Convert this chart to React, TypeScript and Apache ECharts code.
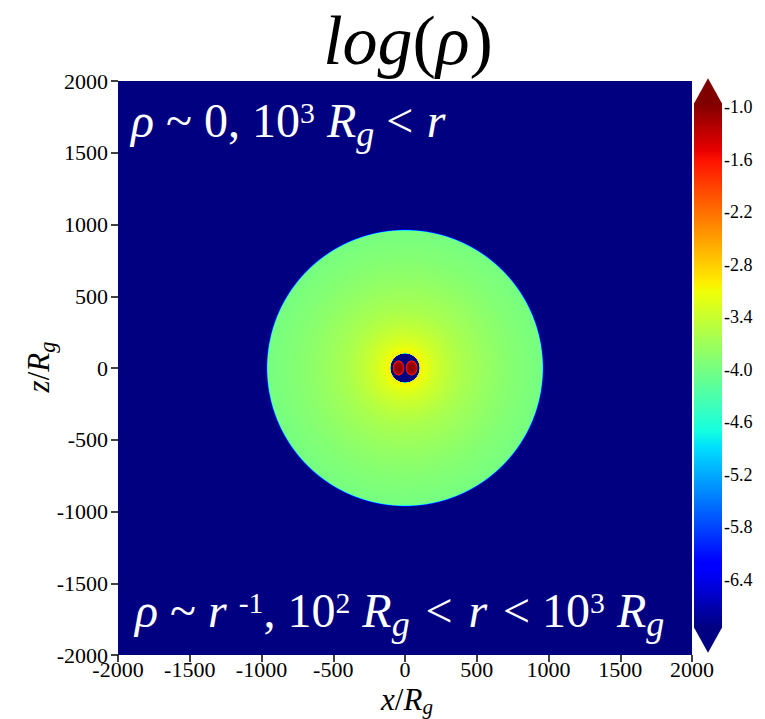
import React, { useEffect, useRef } from 'react';
import * as echarts from 'echarts';

// ---- axes ----
const axisRange = [-2000, 2000];
const axisStep = 500;

// ---- colour scale (log rho) ----
const colorRange = [-6.95, -0.95];
const colorTicks = [-1.0, -1.6, -2.2, -2.8, -3.4, -4.0, -4.6, -5.2, -5.8, -6.4];

// ---- radial profile of log(rho) ----
const profileRadius = [0, 97, 104, 150, 200, 300, 400, 500, 600, 700, 800, 900, 955, 972, 2900];
const profileLogRho = [-8, -8, -3.0, -3.18, -3.31, -3.48, -3.61, -3.7, -3.78, -3.85, -3.91, -3.96, -3.99, -8, -8];

// ---- torus blobs inside r < 100 Rg ----
const blobX = [-45, 46];
const blobZ = [0, 0];
const blobRx = [39, 40];
const blobRz = [52, 52];
const blobLevelOffset = [0, 0.6, 0.85, 0.95, 1];
const blobLevelValue = [-1.0, -1.1, -1.35, -1.7, -2.0];

const FONT = '"Liberation Serif", "Times New Roman", serif';

const JET_R: number[][] = [[0, 0.35, 0.66, 0.89, 1], [0, 0, 1, 1, 0.5]];
const JET_G: number[][] = [[0, 0.125, 0.375, 0.64, 0.91, 1], [0, 0, 1, 1, 0, 0]];
const JET_B: number[][] = [[0, 0.11, 0.34, 0.65, 1], [0.5, 1, 1, 0, 0]];
const JET_BREAKS = [0, 0.11, 0.125, 0.34, 0.35, 0.375, 0.64, 0.65, 0.66, 0.89, 0.91, 1];

function lerpTable(t: number, tab: number[][]) {
  const xs = tab[0], ys = tab[1];
  if (t <= xs[0]) return ys[0];
  for (let i = 1; i < xs.length; i++) {
    if (t <= xs[i]) {
      const f = (t - xs[i - 1]) / (xs[i] - xs[i - 1]);
      return ys[i - 1] + f * (ys[i] - ys[i - 1]);
    }
  }
  return ys[ys.length - 1];
}
function jetT(t: number) {
  const c = Math.max(0, Math.min(1, t));
  const r = Math.round(255 * lerpTable(c, JET_R));
  const g = Math.round(255 * lerpTable(c, JET_G));
  const b = Math.round(255 * lerpTable(c, JET_B));
  return `rgb(${r},${g},${b})`;
}
function jetV(v: number) {
  return jetT((v - colorRange[0]) / (colorRange[1] - colorRange[0]));
}

// ---- math-like text built from fragments ----
type Frag = { t: string; i?: boolean; s?: number; dy?: number; gap?: number };
let measureCtx: CanvasRenderingContext2D | null = null;
function measure(t: string, size: number, italic: boolean) {
  if (!measureCtx) measureCtx = document.createElement('canvas').getContext('2d');
  measureCtx!.font = `${italic ? 'italic ' : ''}${size}px ${FONT}`;
  return measureCtx!.measureText(t).width;
}
function mathText(frags: Frag[], base: number, x: number, y: number, align: string, fill: string, rotation = 0) {
  let cursor = 0;
  const kids: any[] = [];
  for (const f of frags) {
    const size = base * (f.s ?? 1);
    const w = measure(f.t, size, !!f.i);
    kids.push({
      type: 'text',
      z: 100,
      x: cursor,
      y: (f.dy ?? 0) * base - 0.3375 * size,
      style: {
        text: f.t,
        fontSize: size,
        lineHeight: Math.round(size * 0.8),
        fontFamily: FONT,
        fontStyle: f.i ? 'italic' : 'normal',
        fill,
        align: 'left',
        verticalAlign: 'middle',
        textAlign: 'left',
        textVerticalAlign: 'middle',
      },
    });
    cursor += w + (f.gap ?? 0) * base;
  }
  const off = align === 'center' ? -cursor / 2 : align === 'right' ? -cursor : 0;
  kids.forEach((k) => (k.x += off));
  return { type: 'group', z: 100, x, y, rotation, children: kids, silent: true };
}

const titleFrags: Frag[] = [{ t: 'log', i: true }, { t: '(' }, { t: 'ρ', i: true }, { t: ')' }];
const topNote: Frag[] = [
  { t: 'ρ', i: true }, { t: ' ~ 0, 10' }, { t: '3', s: 0.62, dy: -0.3 }, { t: ' ' },
  { t: 'R', i: true }, { t: 'g', i: true, s: 0.75, dy: 0.2 }, { t: ' < ', gap: 0.03 }, { t: 'r', i: true },
];
const bottomNote: Frag[] = [
  { t: 'ρ', i: true }, { t: ' ~ ' }, { t: 'r', i: true }, { t: ' ' }, { t: '-1', s: 0.62, dy: -0.3 },
  { t: ', 10' }, { t: '2', s: 0.62, dy: -0.3 }, { t: ' ' }, { t: 'R', i: true }, { t: 'g', i: true, s: 0.75, dy: 0.2, gap: 0.08 },
  { t: ' < ', gap: 0.08 }, { t: 'r', i: true, gap: 0.08 }, { t: ' < 10', s: 1 }, { t: '3', s: 0.62, dy: -0.3 }, { t: ' ' },
  { t: 'R', i: true }, { t: 'g', i: true, s: 0.75, dy: 0.2 },
];
const xName: Frag[] = [{ t: 'x', i: true }, { t: '/' }, { t: 'R', i: true }, { t: 'g', i: true, s: 0.68, dy: 0.12 }];
const zName: Frag[] = [{ t: 'z', i: true }, { t: '/' }, { t: 'R', i: true }, { t: 'g', i: true, s: 0.72, dy: 0.2 }];

function buildOption(): any {
  // rings (drawn outermost first as filled discs)
  const ringData: number[][] = [];
  for (let i = profileRadius.length - 2; i >= 0; i--) {
    ringData.push([profileRadius[i + 1], profileRadius[i], profileLogRho[i], profileLogRho[i + 1]]);
  }
  const blobData = blobX.map((x, i) => [x, blobZ[i], blobRx[i], blobRz[i]]);

  const axisLabel = { color: '#000', fontFamily: FONT, fontSize: 22, formatter: (v: number) => String(v) };
  const tick = { show: true, length: 7, lineStyle: { color: '#000', width: 1.5 } };
  const line = { show: true, onZero: false, lineStyle: { color: 'rgba(0,0,0,0)', width: 1 } };

  return {
    animation: false,
    backgroundColor: '#fff',
    grid: [
      { left: 118, top: 81, width: 574, height: 574 },
      { left: 694, top: 103, width: 28, height: 525 },
    ],
    xAxis: [
      {
        gridIndex: 0, type: 'value', min: axisRange[0], max: axisRange[1], interval: axisStep,
        position: 'bottom', axisLine: line, axisTick: tick, splitLine: { show: false },
        axisLabel: { ...axisLabel, margin: 3 },
      },
      { gridIndex: 1, type: 'value', min: 0, max: 1, show: false },
    ],
    yAxis: [
      {
        gridIndex: 0, type: 'value', min: axisRange[0], max: axisRange[1], interval: axisStep,
        position: 'left', axisLine: line, axisTick: tick, splitLine: { show: false },
        axisLabel: { ...axisLabel, margin: 10 },
      },
      {
        gridIndex: 1, type: 'value', min: colorRange[0], max: colorRange[1], position: 'right',
        axisLine: { show: false }, axisTick: { show: false }, splitLine: { show: false },
        axisLabel: {
          customValues: colorTicks, color: '#000', fontFamily: FONT, fontSize: 18, margin: 2,
          formatter: (v: number) => v.toFixed(1),
        },
      },
    ],
    series: [
      {
        type: 'custom', xAxisIndex: 0, yAxisIndex: 0, clip: true, silent: true, z: 1,
        data: ringData,
        renderItem: (params: any, api: any) => {
          const rOut = api.value(0), rIn = api.value(1), vIn = api.value(2), vOut = api.value(3);
          const c = api.coord([0, 0]);
          const R = api.size([rOut, 0])[0];
          const f0 = rIn / rOut;
          const stops: any[] = [{ offset: 0, color: jetV(vIn) }];
          const N = 16;
          for (let k = 0; k <= N; k++) {
            stops.push({ offset: f0 + (1 - f0) * (k / N), color: jetV(vIn + (vOut - vIn) * (k / N)) });
          }
          return {
            type: 'circle',
            shape: { cx: c[0], cy: c[1], r: R },
            style: { fill: new echarts.graphic.RadialGradient(c[0], c[1], R, stops, true) },
          };
        },
      },
      {
        type: 'custom', xAxisIndex: 0, yAxisIndex: 0, clip: true, silent: true, z: 1,
        data: blobData,
        renderItem: (params: any, api: any) => {
          const c = api.coord([api.value(0), api.value(1)]);
          const s = api.size([api.value(2), api.value(3)]);
          const stops = blobLevelOffset.map((o, i) => ({ offset: o, color: jetV(blobLevelValue[i]) }));
          return {
            type: 'ellipse',
            shape: { cx: c[0], cy: c[1], rx: s[0], ry: s[1] },
            style: { fill: new echarts.graphic.RadialGradient(0.5, 0.5, 0.5, stops, false) },
          };
        },
      },
      {
        type: 'custom', xAxisIndex: 1, yAxisIndex: 1, clip: false, silent: true,
        data: [[0, colorRange[0], 1, colorRange[1]]],
        renderItem: (params: any, api: any) => {
          const p0 = api.coord([api.value(0), api.value(1)]);
          const p1 = api.coord([api.value(2), api.value(3)]);
          const x0 = p0[0], x1 = p1[0], yb = p0[1], yt = p1[1];
          const w = x1 - x0;
          const th = w * 0.88;
          const stops = JET_BREAKS.map((t) => ({ offset: t, color: jetT(t) }));
          return {
            type: 'group',
            children: [
              {
                type: 'rect',
                shape: { x: x0, y: yt, width: w, height: yb - yt },
                style: { fill: new echarts.graphic.LinearGradient(0, 1, 0, 0, stops) },
              },
              {
                type: 'polygon',
                shape: { points: [[x0, yt + 0.5], [x1, yt + 0.5], [(x0 + x1) / 2, yt - th]] },
                style: { fill: jetT(1) },
              },
              {
                type: 'polygon',
                shape: { points: [[x0, yb - 0.5], [x1, yb - 0.5], [(x0 + x1) / 2, yb + th]] },
                style: { fill: jetT(0) },
              },
            ],
          };
        },
      },
    ],
    graphic: [
      mathText(titleFrags, 70, 408, 64.5, 'center', '#000'),
      mathText(topNote, 48, 131, 137, 'left', '#fff'),
      mathText(bottomNote, 48, 135, 627, 'left', '#fff'),
      mathText(xName, 31, 407, 710, 'center', '#000'),
      mathText(zName, 31, 49, 367, 'center', '#000', Math.PI / 2),
    ],
  };
}

export default function App() {
  const ref = useRef<HTMLDivElement>(null);
  useEffect(() => {
    const chart = echarts.init(ref.current!, null, { renderer: 'svg' });
    chart.setOption(buildOption());
    return () => chart.dispose();
  }, []);
  return (
    <div
      ref={ref}
      style={{ position: 'fixed', left: 0, top: 0, width: 765, height: 719, background: '#fff' }}
    />
  );
}
